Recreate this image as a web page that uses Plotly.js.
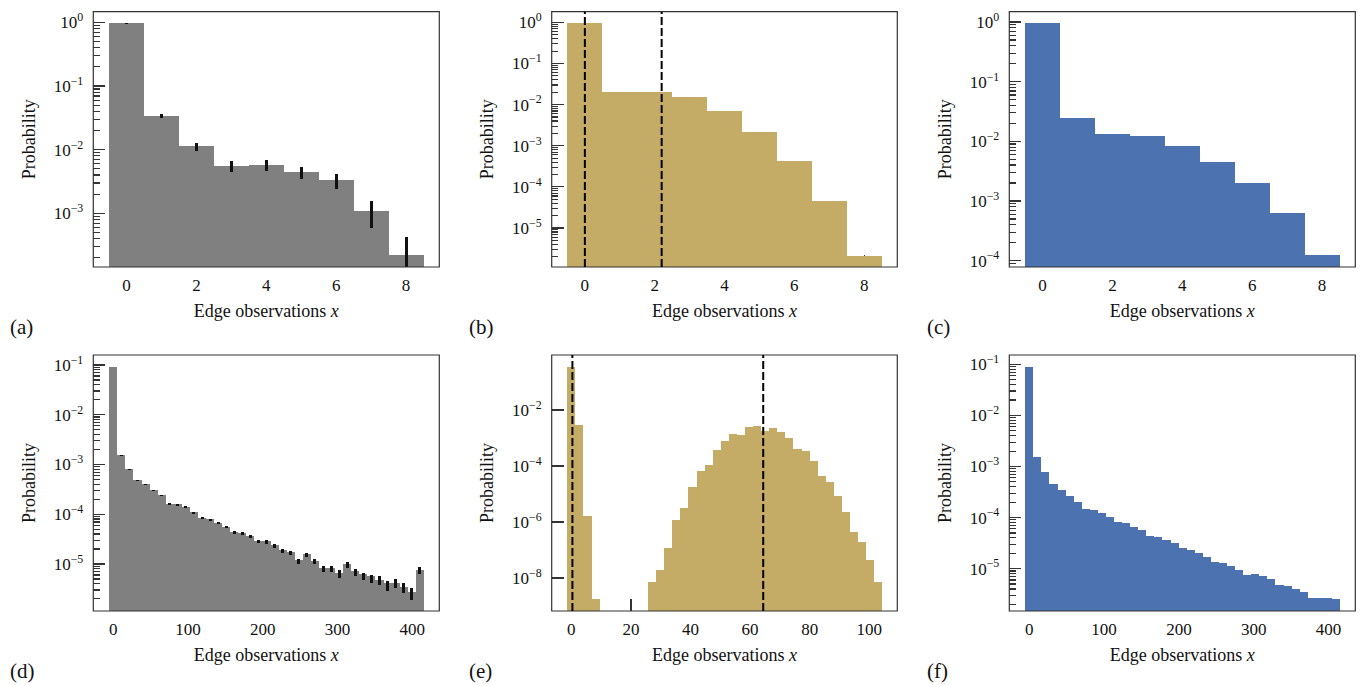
<!DOCTYPE html>
<html>
<head>
<meta charset="utf-8">
<script src="https://cdn.plot.ly/plotly-3.0.1.min.js"></script>
<style>html,body{margin:0;padding:0;background:#fff;}#chart{width:1368px;height:686px;}</style>
</head>
<body>
<div id="chart"></div>
<script>
// ---------------- data ----------------
const xSmall = [0, 1, 2, 3, 4, 5, 6, 7, 8];
const probA  = [0.976, 0.0338, 0.01142, 0.00554, 0.00581, 0.00446, 0.00334, 0.00109, 0.000222];
const ciHiA  = [0.99, 0.0359, 0.0129, 0.00656, 0.00689, 0.00541, 0.00415, 0.00158, 0.00043];
const ciLoA  = [0.96, 0.0310, 0.00964, 0.00441, 0.00457, 0.00342, 0.00244, 0.000596, 0.00005];
const probB  = [0.963, 0.0202, 0.0202, 0.0153, 0.00699, 0.00216, 0.000426, 0.0000453, 0.00000208];
const probC  = [0.95, 0.0246, 0.01327, 0.01228, 0.00835, 0.00451, 0.0020, 0.00063, 0.000124];
const meanB  = [0.0, 2.2];

const xLarge = [0, 10.79, 21.58, 32.37, 43.16, 53.95, 64.74, 75.53, 86.32, 97.11, 107.89, 118.68, 129.47,
  140.26, 151.05, 161.84, 172.63, 183.42, 194.21, 205.0, 215.79, 226.58, 237.37, 248.16, 258.95, 269.74,
  280.53, 291.32, 302.11, 312.89, 323.68, 334.47, 345.26, 356.05, 366.84, 377.63, 388.42, 399.21, 410.0];
const probD = [0.0912, 1.54e-3, 8.05e-4, 4.84e-4, 4.02e-4, 3.04e-4, 2.41e-4, 1.64e-4, 1.57e-4, 1.38e-4,
  1.10e-4, 8.57e-5, 7.93e-5, 6.79e-5, 5.65e-5, 4.34e-5, 4.14e-5, 3.60e-5, 2.90e-5, 2.90e-5,
  2.38e-5, 1.88e-5, 1.77e-5, 1.19e-5, 1.57e-5, 1.15e-5, 8.3e-6, 8.3e-6, 6.59e-6, 9.84e-6,
  7.11e-6, 6.19e-6, 5.73e-6, 4.84e-6, 4.14e-6, 4.14e-6, 3.39e-6, 2.73e-6, 7.45e-6];
const ciHiD = [0.0917, 1.567e-3, 8.18e-4, 4.84e-4, 4.02e-4, 3.09e-4, 2.45e-4, 1.69e-4, 1.61e-4, 1.43e-4,
  1.13e-4, 8.83e-5, 8.18e-5, 7.01e-5, 5.92e-5, 4.62e-5, 4.34e-5, 3.84e-5, 3.09e-5, 3.09e-5,
  2.49e-5, 2.00e-5, 1.85e-5, 1.28e-5, 1.69e-5, 1.26e-5, 9.25e-6, 9.12e-6, 7.45e-6, 1.11e-5,
  7.81e-6, 6.70e-6, 6.10e-6, 5.65e-6, 4.55e-6, 5.07e-6, 4.21e-6, 3.34e-6, 8.57e-6];
const ciLoD = [0.0907, 1.493e-3, 7.81e-4, 4.62e-4, 3.84e-4, 2.95e-4, 2.34e-4, 1.54e-4, 1.49e-4, 1.32e-4,
  1.03e-4, 8.18e-5, 7.45e-5, 6.39e-5, 5.31e-5, 4.02e-5, 3.78e-5, 3.34e-5, 2.61e-5, 2.56e-5,
  2.13e-5, 1.66e-5, 1.54e-5, 9.84e-6, 1.38e-5, 9.84e-6, 6.79e-6, 6.79e-6, 5.31e-6, 8.43e-6,
  5.65e-6, 4.69e-6, 4.14e-6, 3.71e-6, 2.90e-6, 3.29e-6, 2.61e-6, 1.91e-6, 6.19e-6];
const probF = [0.0887, 1.52e-3, 7.74e-4, 4.51e-4, 3.44e-4, 2.62e-4, 2.0e-4, 1.46e-4, 1.39e-4, 1.22e-4,
  1.02e-4, 8.1e-5, 7.74e-5, 6.46e-5, 5.64e-5, 4.31e-5, 4.11e-5, 3.59e-5, 3.14e-5, 2.51e-5,
  2.29e-5, 2.0e-5, 1.67e-5, 1.33e-5, 1.27e-5, 1.11e-5, 9.27e-6, 7.4e-6, 7.74e-6, 7.07e-6,
  6.18e-6, 4.71e-6, 4.5e-6, 3.94e-6, 3.44e-6, 2.62e-6, 2.62e-6, 2.62e-6, 2.51e-6];

const xE = [0, 2.71, 5.42, 8.13, 10.84, 13.55, 16.26, 18.97, 21.68, 24.39, 27.11, 29.82, 32.53, 35.24,
  37.95, 40.66, 43.37, 46.08, 48.79, 51.50, 54.21, 56.92, 59.63, 62.34, 65.05, 67.76, 70.47, 73.18,
  75.89, 78.61, 81.32, 84.03, 86.74, 89.45, 92.16, 94.87, 97.58, 100.29, 103.0];
const probE = [0.346, 2.90e-3, 1.61e-6, 1.72e-9, null, null, null, null, null, null,
  7.0e-9, 1.88e-8, 1.18e-7, 1.19e-6, 3.11e-6, 1.75e-5, 6.56e-5, 1.08e-4, 3.71e-4, 7.78e-4,
  1.38e-3, 1.27e-3, 2.47e-3, 2.68e-3, 1.77e-3, 2.27e-3, 1.63e-3, 9.95e-4, 4.02e-4, 3.41e-4,
  1.50e-4, 4.35e-5, 2.65e-5, 8.36e-6, 2.24e-6, 4.31e-7, 1.89e-7, 4.28e-8, 7.0e-9];
const meanE = [0.35, 64.4];

const panelLabels = ['(a)', '(b)', '(c)', '(d)', '(e)', '(f)'];
const xTitle = 'Edge observations <i>x</i>';
const yTitle = 'Probability';

// ---------------- style ----------------
const GRAY = '#808080', GOLD = '#C4AC67', BLUE = '#4C72B0';
const FONT = 'Liberation Serif, Times New Roman, serif';
const W = 1368, H = 686;

function errs(p, lo, hi) {
  return {
    type: 'data', symmetric: false,
    array: hi.map((h, i) => h - p[i]),
    arrayminus: lo.map((l, i) => p[i] - l),
    color: '#111', thickness: 3, width: 0
  };
}
function bar(x, y, color, w, n, err) {
  const t = {type: 'bar', x: x, y: y, width: w, marker: {color: color, line: {width: 0}},
    xaxis: 'x' + (n === 1 ? '' : n), yaxis: 'y' + (n === 1 ? '' : n), hoverinfo: 'x+y'};
  if (err) t.error_y = err;
  return t;
}
const data = [
  bar(xSmall, probA, GRAY, 1, 1, errs(probA, ciLoA, ciHiA)),
  bar(xSmall, probB, GOLD, 1, 2),
  bar(xSmall, probC, BLUE, 1, 3),
  bar(xLarge, probD, GRAY, 10.79, 4, errs(probD, ciLoD, ciHiD)),
  bar(xE, probE, GOLD, 2.71, 5),
  bar(xLarge, probF, BLUE, 10.79, 6)
];

function sup(e) { return '10<sup>' + (e < 0 ? '\u2212' + (-e) : e) + '</sup>'; }
function minorVals(lo, hi) {
  const v = [];
  for (let e = lo; e <= hi; e++) for (let m = 2; m <= 9; m++) v.push(m * Math.pow(10, e));
  return v;
}
// pixel boxes [left, right, top, bottom]
const boxes = [
  [93.3, 439.3, 11.7, 267], [551.7, 897.3, 11.7, 267], [1009.3, 1355.3, 11.7, 267],
  [93.3, 439.3, 355, 611], [551.7, 897.3, 355, 611], [1009.3, 1355.3, 355, 611]
];
const xRanges = [[-0.95, 8.95], [-0.95, 8.95], [-0.95, 8.95], [-26.8, 436.1], [-6.6, 109.4], [-26.7, 435.8]];
const xDticks = [2, 2, 2, 100, 20, 100];
const yRanges = [[-3.843, 0.168], [-5.948, 0.259], [-4.106, 0.173], [-5.946, -0.799], [-9.181, -0.032], [-5.830, -0.817]];
const yMajorExp = [[0, -1, -2, -3], [0, -1, -2, -3, -4, -5], [0, -1, -2, -3, -4], [-1, -2, -3, -4, -5], [-2, -4, -6, -8], [-1, -2, -3, -4, -5]];
const hasMinor = [true, true, true, true, false, true];

const layout = {
  width: W, height: H, margin: {l: 0, r: 0, t: 0, b: 0},
  paper_bgcolor: '#fff', plot_bgcolor: '#fff', showlegend: false, bargap: 0,
  font: {family: FONT, size: 17, color: '#111'},
  shapes: [], annotations: []
};
const tickColor = '#333';
boxes.forEach((b, i) => {
  const n = i + 1, s = n === 1 ? '' : String(n);
  layout['xaxis' + s] = {
    domain: [b[0] / W, b[1] / W], anchor: 'y' + s, range: xRanges[i],
    tickmode: 'linear', tick0: 0, dtick: xDticks[i],
    ticks: 'inside', ticklen: 12, tickwidth: 1.2, tickcolor: tickColor,
    showline: false, showgrid: false, zeroline: false, layer: 'below traces',
    ticklabelstandoff: 6, tickfont: {size: 17, family: FONT, color: '#111'},
    title: {text: xTitle, font: {size: 18, family: FONT, color: '#111'}, standoff: 10}
  };
  const ex = yMajorExp[i];
  const ya = {
    domain: [1 - b[3] / H, 1 - b[2] / H], anchor: 'x' + s, type: 'log', range: yRanges[i],
    tickmode: 'array', tickvals: ex.map(e => Math.pow(10, e)), ticktext: ex.map(sup),
    ticks: 'inside', ticklen: 12, tickwidth: 1.2, tickcolor: tickColor,
    showline: false, showgrid: false, zeroline: false, layer: 'below traces',
    ticklabelstandoff: 9, tickfont: {size: 17, family: FONT, color: '#111'},
    title: {text: yTitle, font: {size: 18, family: FONT, color: '#111'}, standoff: 13}
  };
  if (hasMinor[i]) ya.minor = {tickmode: 'array', tickvals: minorVals(-10, 0), ticks: 'inside',
    ticklen: 6.5, tickwidth: 1.2, tickcolor: tickColor, showgrid: false};
  layout['yaxis' + s] = ya;
  layout.shapes.push({type: 'rect', xref: 'x' + s + ' domain', yref: 'y' + s + ' domain', x0: 0, x1: 1, y0: 0, y1: 1,
    line: {color: '#333', width: 1.2}, fillcolor: 'rgba(0,0,0,0)', layer: 'above'});
  const lx = [8, 467, 925][i % 3], ly = i < 3 ? 327 : 671;
  layout.annotations.push({xref: 'paper', yref: 'paper', x: lx / W, y: 1 - ly / H, xanchor: 'left', yanchor: 'middle',
    text: panelLabels[i], showarrow: false, font: {size: 21, family: FONT, color: '#111'}});
});
// dashed mean lines
[[meanB, 2], [meanE, 5]].forEach(([vals, n]) => {
  vals.forEach(v => layout.shapes.push({type: 'line', xref: 'x' + n, yref: 'y' + n + ' domain', x0: v, x1: v, y0: 0, y1: 1,
    line: {color: '#000', width: 2, dash: '8px,3px'}, layer: 'above'}));
});

Plotly.newPlot('chart', data, layout, {staticPlot: true, displayModeBar: false});
</script>
</body>
</html>
